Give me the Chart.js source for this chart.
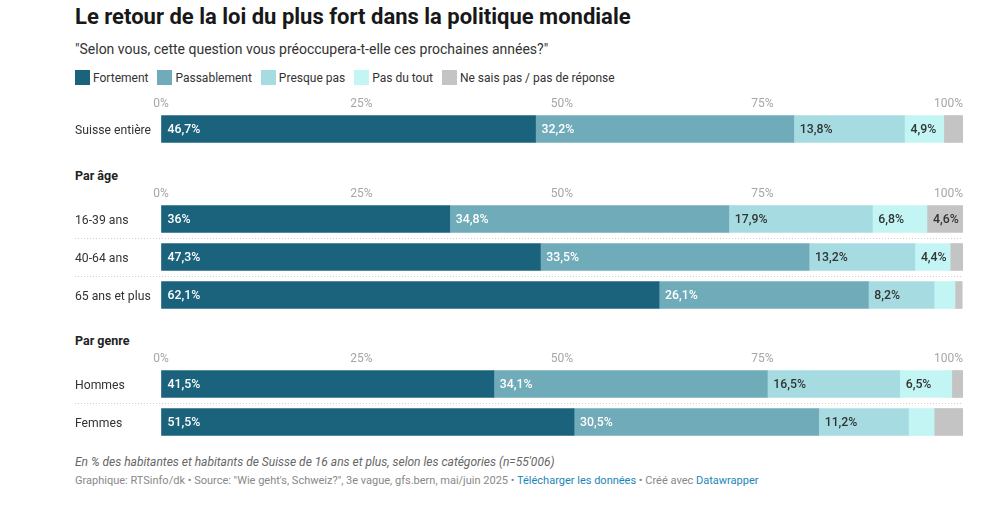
<!DOCTYPE html>
<html lang="fr">
<head>
<meta charset="utf-8">
<script src="https://cdn.jsdelivr.net/npm/chart.js@4/dist/chart.umd.min.js"></script>
<style>
  html, body { margin: 0; padding: 0; background: #fff; }
  body { width: 994px; height: 505px; position: relative; overflow: hidden; font-family: Roboto, "Noto Sans", sans-serif; color: #333; }
  .abs { position: absolute; white-space: nowrap; }
  #title { left: 75px; top: 4px; font-size: 22px; font-weight: 700; color: #181818; }
  #subtitle { left: 75px; top: 41px; font-size: 14px; color: #333; }
  #legend { left: 75px; top: 70px; font-size: 12px; color: #333; display: flex; }
  #legend .item { display: flex; align-items: center; margin-right: 9px; }
  #legend .sw { width: 15px; height: 15px; margin-right: 3px; }
  .group { font-size: 12.5px; font-weight: 700; color: #222; left: 75px; }
  .chartbox { position: absolute; left: 75px; width: 888px; }
  #note { left: 75px; top: 455px; font-size: 12px; font-style: italic; color: #666; }
  #source { left: 75px; top: 474px; font-size: 11px; color: #888; }
  #source a { color: #1a86b8; text-decoration: none; }
</style>
</head>
<body>
<div id="title" class="abs">Le retour de la loi du plus fort dans la politique mondiale</div>
<div id="subtitle" class="abs">"Selon vous, cette question vous préoccupera-t-elle ces prochaines années?"</div>
<div id="legend" class="abs"></div>

<div class="chartbox" style="top:90px;height:58px;"><canvas id="c1"></canvas></div>
<div class="abs group" style="top:168px;">Par âge</div>
<div class="chartbox" style="top:180px;height:134px;"><canvas id="c2"></canvas></div>
<div class="abs group" style="top:333px;">Par genre</div>
<div class="chartbox" style="top:345px;height:96px;"><canvas id="c3"></canvas></div>

<div id="note" class="abs">En % des habitantes et habitants de Suisse de 16 ans et plus, selon les catégories (n=55'006)</div>
<div id="source" class="abs">Graphique: RTSinfo/dk • Source: "Wie geht's, Schweiz?", 3e vague, gfs.bern, mai/juin 2025 • <a href="#">Télécharger les données</a> • Créé avec <a href="#">Datawrapper</a></div>

<script>
// ---- Data ----
const rows = ['Suisse entière', '16-39 ans', '40-64 ans', '65 ans et plus', 'Hommes', 'Femmes'];
const seriesNames = ['Fortement', 'Passablement', 'Presque pas', 'Pas du tout', 'Ne sais pas / pas de réponse'];
const fortement    = [46.7, 36.0, 47.3, 62.1, 41.5, 51.5];
const passablement = [32.2, 34.8, 33.5, 26.1, 34.1, 30.5];
const presquePas   = [13.8, 17.9, 13.2,  8.2, 16.5, 11.2];
const pasDuTout    = [ 4.9,  6.8,  4.4,  2.6,  6.5,  3.2];
const neSaisPas    = [ 2.4,  4.6,  1.6,  0.9,  1.4,  3.6];
const xTicks = [0, 25, 50, 75, 100];
const groups = [
  { canvas: 'c1', from: 0, to: 1 },
  { canvas: 'c2', from: 1, to: 4 },
  { canvas: 'c3', from: 4, to: 6 }
];

// ---- Styles ----
const colors = ['#1b637c', '#70abb9', '#a6dce1', '#c4f5f5', '#c4c4c4'];
const labelColors = ['#ffffff', '#ffffff', '#333333', '#333333', '#333333'];
const allSeries = [fortement, passablement, presquePas, pasDuTout, neSaisPas];

const legend = document.getElementById('legend');
seriesNames.forEach((n, i) => {
  const it = document.createElement('div');
  it.className = 'item';
  it.innerHTML = '<span class="sw" style="background:' + colors[i] + '"></span><span>' + n + '</span>';
  legend.appendChild(it);
});

function fmt(v) { return String(v).replace('.', ','); }

const overlayPlugin = {
  id: 'overlay',
  afterDraw(chart) {
    const ctx = chart.ctx;
    const xs = chart.scales.x;
    const ys = chart.scales.y;
    const area = chart.chartArea;
    ctx.save();
    // separators between rows
    const n = chart.data.labels.length;
    ctx.strokeStyle = '#cfcfcf';
    ctx.lineWidth = 1;
    ctx.setLineDash([1, 2]);
    for (let i = 0; i < n - 1; i++) {
      const y = Math.round((ys.getPixelForValue(i) + ys.getPixelForValue(i + 1)) / 2) + 0.5;
      ctx.beginPath();
      ctx.moveTo(0, y);
      ctx.lineTo(area.right, y);
      ctx.stroke();
    }
    ctx.setLineDash([]);
    // x tick labels
    ctx.font = '12px Roboto, sans-serif';
    ctx.fillStyle = '#a6a6a6';
    ctx.textBaseline = 'middle';
    xTicks.forEach((t, i) => {
      const x = xs.getPixelForValue(t);
      ctx.textAlign = (i === xTicks.length - 1) ? 'right' : 'center';
      ctx.fillText(t + '%', x, area.top - 6);
    });
    // value labels
    ctx.font = '500 12.3px Roboto, sans-serif';
    ctx.textAlign = 'left';
    chart.data.datasets.forEach((ds, di) => {
      const meta = chart.getDatasetMeta(di);
      meta.data.forEach((bar, bi) => {
        const v = ds.data[bi];
        if (v < 4) return;
        const left = Math.min(bar.x, bar.base);
        ctx.fillStyle = labelColors[di];
        ctx.fillText(fmt(v) + '%', left + 6, bar.y + 1);
      });
    });
    ctx.restore();
  }
};

groups.forEach(g => {
  const labels = rows.slice(g.from, g.to);
  const datasets = seriesNames.map((name, i) => ({
    label: name,
    data: allSeries[i].slice(g.from, g.to),
    backgroundColor: colors[i],
    borderWidth: 0,
    barThickness: 27
  }));
  new Chart(document.getElementById(g.canvas), {
    type: 'bar',
    data: { labels, datasets },
    options: {
      indexAxis: 'y',
      responsive: true,
      maintainAspectRatio: false,
      animation: false,
      layout: { padding: { top: 20, right: 0, bottom: 0, left: 0 } },
      plugins: { legend: { display: false }, tooltip: { enabled: false } },
      scales: {
        x: {
          type: 'linear', position: 'top', stacked: true, min: 0, max: 100,
          z: 1,
          afterBuildTicks(scale) { scale.ticks = xTicks.map(v => ({ value: v })); },
          ticks: { display: false },
          grid: { color: 'rgba(255,255,255,0.35)', drawTicks: false, lineWidth: 1 },
          border: { display: false }
        },
        y: {
          type: 'category', stacked: true,
          grid: { display: false, drawTicks: false },
          border: { display: false },
          ticks: { color: '#333', font: { size: 12.2, family: 'Roboto, sans-serif' }, crossAlign: 'far', padding: 0, labelOffset: 1.5 },
          afterFit(scale) { scale.width = 86; scale.paddingTop = 0; scale.paddingBottom = 0; }
        }
      }
    },
    plugins: [overlayPlugin]
  });
});
</script>
</body>
</html>
